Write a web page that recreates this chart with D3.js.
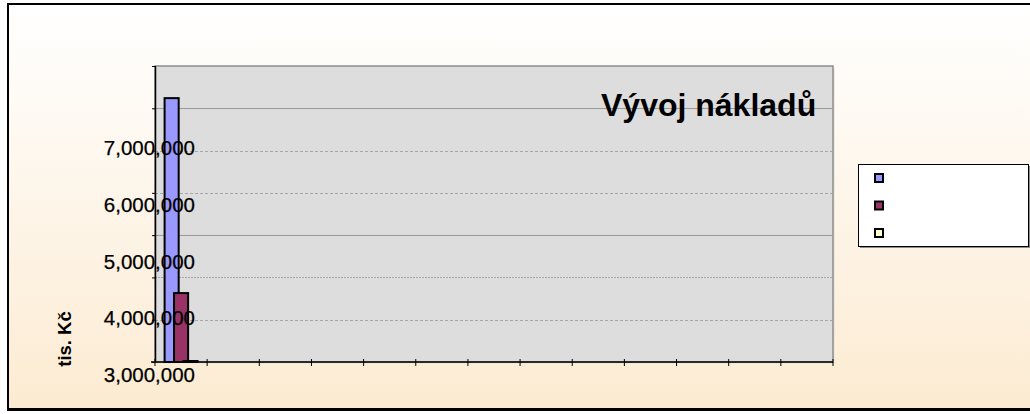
<!DOCTYPE html>
<html>
<head>
<meta charset="utf-8">
<script src="https://cdn.jsdelivr.net/npm/d3@7.9.0/dist/d3.min.js"></script>
<style>
  body { margin: 0; background: #fff; }
  svg { display: block; font-family: "Liberation Sans", Arial, sans-serif; }
</style>
</head>
<body>
<svg id="chart" width="1030" height="414"></svg>
<script>
// chart data
const categories = ["1", "2", "3", "4", "5", "6", "7", "8", "9", "10", "11", "12", "13"];
const seriesNames = ["", "", ""];
const seriesColors = ["#9999FF", "#993366", "#FFFFCC"];
const series1 = [7880000, null, null, null, null, null, null, null, null, null, null, null, null];
const series2 = [4440000, null, null, null, null, null, null, null, null, null, null, null, null];
const series3 = [3000000, null, null, null, null, null, null, null, null, null, null, null, null];
const yTickValues = [3000000, 4000000, 5000000, 6000000, 7000000];
const titleText = "Vývoj nákladů";
const yAxisTitle = "tis. Kč";

const allSeries = [series1, series2, series3];

const svg = d3.select("#chart");
const W = 1030, H = 414;
const plot = { left: 155, right: 833, top: 66, bottom: 362 };

// background gradient
const defs = svg.append("defs");
const grad = defs.append("linearGradient")
    .attr("id", "bg").attr("x1", 0).attr("y1", 0).attr("x2", 0).attr("y2", 1);
grad.append("stop").attr("offset", "0%").attr("stop-color", "#FFFFFF");
grad.append("stop").attr("offset", "100%").attr("stop-color", "#FCEBD2");

svg.append("rect").attr("width", W).attr("height", H).attr("fill", "#fff");
svg.append("rect")
    .attr("x", 8).attr("y", 4).attr("width", W + 20).attr("height", 405)
    .attr("fill", "url(#bg)")
    .attr("stroke", "#000").attr("stroke-width", 2);
svg.append("line")
    .attr("x1", 7).attr("x2", W).attr("y1", 409.5).attr("y2", 409.5)
    .attr("stroke", "#000").attr("stroke-width", 3);

// scales
const x = d3.scaleBand().domain(categories).range([plot.left, plot.right]).padding(0);
const y = d3.scaleLinear().domain([3000000, 7000000]).range([374.7, 148]);
const grid = d3.scaleLinear().domain([0, 7]).range([plot.bottom, plot.top]);

// plot area
svg.append("rect")
    .attr("x", plot.left + 2).attr("y", plot.top + 2)
    .attr("width", plot.right - plot.left).attr("height", plot.bottom - plot.top)
    .attr("fill", "#EFE6D8").attr("opacity", 0.8);
svg.append("rect")
    .attr("x", plot.left).attr("y", plot.top)
    .attr("width", plot.right - plot.left).attr("height", plot.bottom - plot.top)
    .attr("fill", "#DDDDDD")
    .attr("stroke", "#8C8C8C").attr("stroke-width", 1.5);

// gridlines (mixed solid/dashed as in the picture)
const gridStyle = i => i === 3 || i === 6 ? null : (i === 2 ? "2,1" : "3,2");
svg.append("g").selectAll("line")
    .data(d3.range(1, 7))
    .join("line")
    .attr("x1", plot.left).attr("x2", plot.right)
    .attr("y1", d => Math.round(grid(d)) + 0.5).attr("y2", d => Math.round(grid(d)) + 0.5)
    .attr("stroke", d => gridStyle(d) ? "#A6A6A6" : "#999999")
    .attr("stroke-dasharray", d => gridStyle(d));

// bars
const bw = x.bandwidth();
const barW = bw * 0.27;
const barStep = barW * 0.67;
const groupW = barW + barStep * (allSeries.length - 1);
const barsG = svg.append("g");
allSeries.forEach((vals, s) => {
    barsG.append("g").selectAll("rect")
        .data(categories.map((c, i) => ({ c, v: vals[i] })).filter(d => d.v != null))
        .join("rect")
        .attr("x", d => x(d.c) + (bw - groupW) / 2 + s * barStep)
        .attr("y", d => Math.min(y(d.v), plot.bottom - 1))
        .attr("width", barW)
        .attr("height", d => Math.max(1, plot.bottom - y(d.v)))
        .attr("fill", seriesColors[s])
        .attr("stroke", "#000").attr("stroke-width", 2);
});

// y axis (ticks at gridlines)
const yAxis = svg.append("g")
    .attr("transform", `translate(${plot.left},0)`)
    .call(d3.axisLeft(grid).ticks(7).tickFormat("").tickSizeInner(4).tickSizeOuter(0));
yAxis.selectAll("line").attr("stroke", "#000").attr("transform", "translate(1,0)");
yAxis.select(".domain").attr("stroke", "#000").attr("stroke-width", 1.5);

// x axis
svg.append("line")
    .attr("x1", plot.left - 4).attr("x2", plot.right)
    .attr("y1", plot.bottom).attr("y2", plot.bottom)
    .attr("stroke", "#000").attr("stroke-width", 1.5);
const edges = categories.map(c => x(c)).concat([x.range()[1]]);
svg.append("g").selectAll("line")
    .data(edges)
    .join("line")
    .attr("x1", d => d).attr("x2", d => d)
    .attr("y1", plot.bottom - 3).attr("y2", plot.bottom + 4)
    .attr("stroke", "#000");

// y labels (drawn over the plot like the original)
svg.append("g").selectAll("text")
    .data(yTickValues)
    .join("text")
    .attr("x", 195)
    .attr("y", d => y(d))
    .attr("dy", "0.35em")
    .attr("text-anchor", "end")
    .attr("font-size", "20.5px")
    .attr("fill", "#000")
    .attr("stroke", "#000").attr("stroke-width", 0.25)
    .text(d3.format(","));

// y axis title
svg.append("text")
    .attr("transform", "translate(71,339) rotate(-90)")
    .attr("text-anchor", "middle")
    .attr("font-size", "18.5px")
    .attr("font-weight", "bold")
    .text(yAxisTitle);

// chart title
svg.append("text")
    .attr("x", 601).attr("y", 116)
    .attr("font-size", "32px")
    .attr("font-weight", "bold")
    .text(titleText);

// legend
const lg = svg.append("g");
lg.append("rect")
    .attr("x", 860).attr("y", 166).attr("width", 170).attr("height", 82)
    .attr("fill", "#8C8C8C");
lg.append("rect")
    .attr("x", 858.5).attr("y", 164.5).attr("width", 170).attr("height", 82)
    .attr("fill", "#fff").attr("stroke", "#000");
lg.selectAll(".key")
    .data(seriesNames)
    .join("rect")
    .attr("class", "key")
    .attr("x", 875)
    .attr("y", (d, i) => 174 + i * 27.5)
    .attr("width", 8).attr("height", 8)
    .attr("fill", (d, i) => seriesColors[i])
    .attr("stroke", "#000").attr("stroke-width", 2);
lg.selectAll(".lbl")
    .data(seriesNames)
    .join("text")
    .attr("class", "lbl")
    .attr("x", 892)
    .attr("y", (d, i) => 178 + i * 27.5)
    .attr("dy", "0.35em")
    .attr("font-size", "13px")
    .text(d => d);
</script>
</body>
</html>
